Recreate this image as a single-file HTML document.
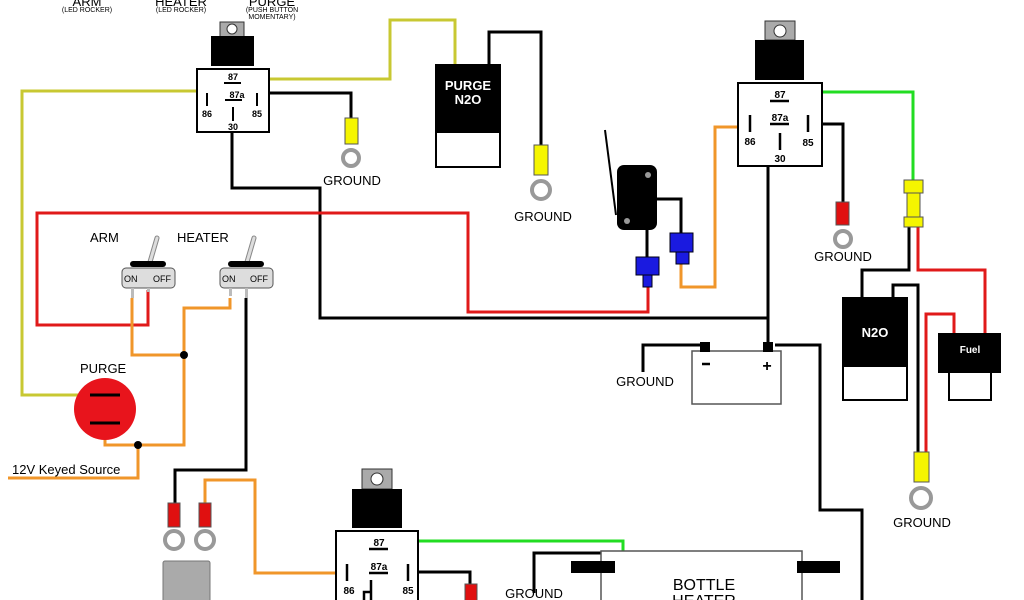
<!DOCTYPE html>
<html><head><meta charset="utf-8"><style>
html,body{margin:0;padding:0;background:#fff;width:1024px;height:600px;overflow:hidden}
svg{display:block}
text{font-family:"Liberation Sans",Arial,sans-serif}
.b{font-weight:bold}
</style></head><body>
<svg width="1024" height="600" viewBox="0 0 1024 600" xmlns="http://www.w3.org/2000/svg">
<g fill="none" stroke-width="3" stroke-linejoin="miter">
<polyline points="240,79 390,79 390,20 455,20 455,66" stroke="#c8c832"/>
<polyline points="204,91 22,91 22,395 92,395" stroke="#c8c832"/>
<polyline points="257,93 351,93 351,118" stroke="#000"/>
<polyline points="232,132 232,188 320,188 320,318 768,318" stroke="#000"/>
<polyline points="489,66 489,32 541,32 541,145" stroke="#000"/>
<polyline points="647,230 647,258" stroke="#000"/>
<polyline points="657,199 681,199 681,233" stroke="#000"/>
<polyline points="808,124 843,124 843,203" stroke="#000"/>
<polyline points="780,142 768,142 768,345" stroke="#000"/>
<polyline points="909,227 909,270 862,270 862,298" stroke="#000"/>
<polyline points="893,298 893,285 918,285 918,452" stroke="#000"/>
<polyline points="700,345 643,345 643,372" stroke="#000"/>
<polyline points="775,345 820,345 820,510 862,510 862,600" stroke="#000"/>
<polyline points="246,298 246,470 175,470 175,503" stroke="#000"/>
<polyline points="408,572 470,572 470,585" stroke="#000"/>
<polyline points="534,593 534,553 601,553" stroke="#000"/>
<polyline points="648,287 648,312 468,312 468,213 37,213 37,325 148,325 148,290" stroke="#e01a1a"/>
<polyline points="918,227 918,270 985,270 985,333" stroke="#e01a1a"/>
<polyline points="926,452 926,314 954,314 954,333" stroke="#e01a1a"/>
<polyline points="681,264 681,287 715,287 715,127 745,127" stroke="#f0962a"/>
<polyline points="132,298 132,355 184,355" stroke="#f0962a"/>
<polyline points="230,298 230,308 184,308 184,445 138,445" stroke="#f0962a"/>
<polyline points="105,423 105,445 138,445 138,478 8,478" stroke="#f0962a"/>
<polyline points="205,503 205,480 255,480 255,573 346,573" stroke="#f0962a"/>
<polyline points="792,92 913,92 913,180" stroke="#22dd22"/>
<polyline points="392,541 623,541 623,551" stroke="#22dd22"/>
</g>
<circle cx="184" cy="355" r="4" fill="#000"/><circle cx="138" cy="445" r="4" fill="#000"/>

<g text-anchor="middle" fill="#000">
<text x="87" y="6" font-size="13">ARM</text>
<text x="87" y="12" font-size="7">(LED ROCKER)</text>
<text x="181" y="6" font-size="13">HEATER</text>
<text x="181" y="12" font-size="7">(LED ROCKER)</text>
<text x="272" y="6" font-size="13">PURGE</text>
<text x="272" y="12" font-size="7">(PUSH BUTTON</text>
<text x="272" y="19" font-size="7">MOMENTARY)</text>
</g>

<rect x="220" y="22" width="24" height="15" fill="#aaa" stroke="#333"/><circle cx="232" cy="29" r="5" fill="#fff" stroke="#333"/>
<rect x="211" y="36" width="43" height="30" fill="#000"/>
<rect x="197" y="69" width="72" height="63" fill="#fff" stroke="#000" stroke-width="2"/>
<g class="b" font-size="9" text-anchor="middle" fill="#000">
<text x="233" y="80">87</text><text x="237" y="98">87a</text><text x="207" y="117">86</text><text x="257" y="117">85</text><text x="233" y="130">30</text></g>
<g stroke="#000" stroke-width="2"><line x1="224" y1="83" x2="241" y2="83"/><line x1="225" y1="100" x2="242" y2="100"/><line x1="207" y1="93" x2="207" y2="106"/><line x1="257" y1="93" x2="257" y2="106"/><line x1="233" y1="107" x2="233" y2="121"/></g>

<rect x="765" y="21" width="30" height="19" fill="#aaa" stroke="#333"/><circle cx="780" cy="31" r="6" fill="#fff" stroke="#333"/>
<rect x="755" y="40" width="49" height="40" fill="#000"/>
<rect x="738" y="83" width="84" height="83" fill="#fff" stroke="#000" stroke-width="2"/>
<g class="b" font-size="10" text-anchor="middle" fill="#000">
<text x="780" y="98">87</text><text x="780" y="121">87a</text><text x="750" y="145">86</text><text x="808" y="146">85</text><text x="780" y="162">30</text></g>
<g stroke="#000" stroke-width="2.5"><line x1="770" y1="101" x2="789" y2="101"/><line x1="770" y1="124" x2="789" y2="124"/><line x1="750" y1="115" x2="750" y2="132"/><line x1="808" y1="115" x2="808" y2="132"/><line x1="780" y1="133" x2="780" y2="150"/></g>

<rect x="362" y="469" width="30" height="20" fill="#aaa" stroke="#333"/><circle cx="377" cy="479" r="6" fill="#fff" stroke="#333"/>
<rect x="352" y="489" width="50" height="39" fill="#000"/>
<rect x="336" y="531" width="82" height="75" fill="#fff" stroke="#000" stroke-width="2"/>
<g class="b" font-size="10" text-anchor="middle" fill="#000">
<text x="379" y="546">87</text><text x="379" y="570">87a</text><text x="349" y="594">86</text><text x="408" y="594">85</text></g>
<g stroke="#000" stroke-width="2.5"><line x1="369" y1="549" x2="388" y2="549"/><line x1="369" y1="573" x2="388" y2="573"/><line x1="347" y1="564" x2="347" y2="581"/><line x1="408" y1="564" x2="408" y2="581"/><polyline points="364,600 364,592 371,592" fill="none"/><line x1="371" y1="580" x2="371" y2="600"/></g>

<rect x="436" y="65" width="64" height="102" fill="#fff" stroke="#000" stroke-width="2"/>
<rect x="436" y="65" width="64" height="68" fill="#000"/>
<text class="b" x="468" y="90" font-size="13" fill="#fff" text-anchor="middle">PURGE</text>
<text class="b" x="468" y="104" font-size="13" fill="#fff" text-anchor="middle">N2O</text>

<g fill="#f5f500" stroke="#555" stroke-width="1"><rect x="345" y="118" width="13" height="26"/><rect x="534" y="145" width="14" height="30"/><rect x="914" y="452" width="15" height="30"/>
<rect x="904" y="180" width="19" height="13"/><rect x="907" y="193" width="13" height="24"/><rect x="904" y="217" width="19" height="10"/></g>
<g fill="#e01010" stroke="#555" stroke-width="1"><rect x="836" y="202" width="13" height="23"/><rect x="168" y="503" width="12" height="24"/><rect x="199" y="503" width="12" height="24"/><rect x="465" y="584" width="12" height="20"/></g>
<g fill="none" stroke="#999" stroke-width="4"><circle cx="351" cy="158" r="8"/><circle cx="541" cy="190" r="9"/><circle cx="843" cy="239" r="8"/><circle cx="921" cy="498" r="10"/><circle cx="174" cy="540" r="9"/><circle cx="205" cy="540" r="9"/></g>
<g font-size="13" text-anchor="middle" fill="#000">
<text x="352" y="185">GROUND</text><text x="543" y="221">GROUND</text><text x="843" y="261">GROUND</text><text x="645" y="386">GROUND</text><text x="922" y="527">GROUND</text><text x="534" y="598">GROUND</text></g>

<line x1="605" y1="130" x2="616" y2="215" stroke="#000" stroke-width="2"/>
<rect x="617" y="165" width="40" height="65" rx="7" fill="#000"/>
<circle cx="648" cy="175" r="3" fill="#999"/><circle cx="627" cy="221" r="3" fill="#999"/>
<g fill="#1a1ae0" stroke="#001" stroke-width="1"><rect x="636" y="257" width="23" height="18"/><rect x="643" y="275" width="9" height="12"/><rect x="670" y="233" width="23" height="19"/><rect x="676" y="252" width="13" height="12"/></g>

<rect x="843" y="298" width="64" height="102" fill="#fff" stroke="#000" stroke-width="2"/>
<rect x="843" y="298" width="64" height="69" fill="#000"/>
<text class="b" x="875" y="337" font-size="13" fill="#fff" text-anchor="middle">N2O</text>
<rect x="949" y="370" width="42" height="30" fill="#fff" stroke="#000" stroke-width="2"/>
<rect x="938" y="333" width="63" height="40" fill="#000"/>
<text class="b" x="970" y="353" font-size="10" fill="#fff" text-anchor="middle">Fuel</text>

<rect x="692" y="351" width="89" height="53" fill="#fff" stroke="#555" stroke-width="1.5"/>
<rect x="700" y="342" width="10" height="10" fill="#000"/><rect x="763" y="342" width="10" height="10" fill="#000"/>
<line x1="702" y1="364" x2="710" y2="364" stroke="#000" stroke-width="2.5"/>
<text class="b" x="767" y="371" font-size="16" text-anchor="middle">+</text>

<g font-size="13" fill="#000"><text x="90" y="242">ARM</text><text x="177" y="242">HEATER</text><text x="80" y="373">PURGE</text><text x="12" y="474">12V Keyed Source</text></g>
<g>
<line x1="150" y1="262" x2="157" y2="238" stroke="#888" stroke-width="5" stroke-linecap="round"/><line x1="150" y1="262" x2="157" y2="238" stroke="#ddd" stroke-width="3" stroke-linecap="round"/>
<rect x="130" y="261" width="36" height="6" rx="3" fill="#000"/>
<rect x="122" y="268" width="53" height="20" rx="4" fill="#ddd" stroke="#555"/>
<text x="124" y="282" font-size="9">ON</text><text x="153" y="282" font-size="9">OFF</text>
<rect x="131" y="288" width="3" height="10" fill="#bbb"/><rect x="147" y="288" width="3" height="4" fill="#bbb"/>
<line x1="247" y1="262" x2="254" y2="238" stroke="#888" stroke-width="5" stroke-linecap="round"/><line x1="247" y1="262" x2="254" y2="238" stroke="#ddd" stroke-width="3" stroke-linecap="round"/>
<rect x="228" y="261" width="36" height="6" rx="3" fill="#000"/>
<rect x="220" y="268" width="53" height="20" rx="4" fill="#ddd" stroke="#555"/>
<text x="222" y="282" font-size="9">ON</text><text x="250" y="282" font-size="9">OFF</text>
<rect x="229" y="288" width="3" height="8" fill="#bbb"/><rect x="245" y="288" width="3" height="10" fill="#bbb"/>
</g>
<circle cx="105" cy="409" r="31" fill="#e8141c"/>
<line x1="90" y1="395" x2="120" y2="395" stroke="#000" stroke-width="3"/><line x1="90" y1="423" x2="120" y2="423" stroke="#000" stroke-width="3"/>

<rect x="163" y="561" width="47" height="45" rx="2" fill="#aaa" stroke="#777"/>

<rect x="601" y="551" width="201" height="60" fill="#fff" stroke="#555" stroke-width="1.5"/>
<rect x="571" y="561" width="44" height="12" fill="#000"/><rect x="797" y="561" width="43" height="12" fill="#000"/>
<text x="704" y="590" font-size="16" text-anchor="middle">BOTTLE</text>
<text x="704" y="606" font-size="16" text-anchor="middle">HEATER</text>
</svg>
</body></html>
